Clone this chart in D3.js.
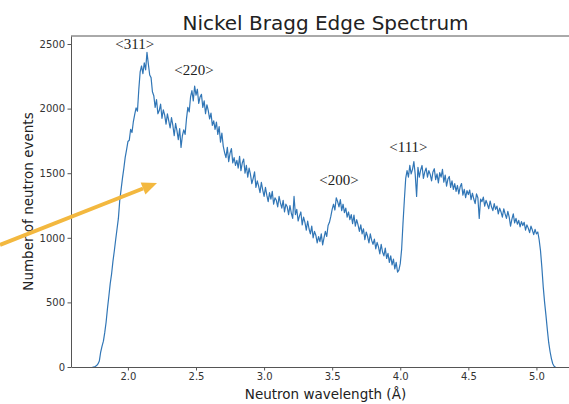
<!DOCTYPE html>
<html>
<head>
<meta charset="utf-8">
<script src="https://cdn.jsdelivr.net/npm/d3@7/dist/d3.min.js"></script>
<style>
  html, body { margin: 0; padding: 0; background: #fff; }
  svg { display: block; }
</style>
</head>
<body>
<script>
// Neutron counts per wavelength bin, starting at 1.74 Å with 0.01 Å bins
const lambdaStart = 1.74;
const lambdaStep = 0.01;
const counts = [
  0, 1, 4, 11, 24, 46,
  // 1.80
  116, 162, 200, 268, 348, 455, 548, 645, 720, 818,
  // 1.90
  898, 985, 1068, 1150, 1290, 1375, 1462, 1538, 1622, 1680,
  // 2.00
  1745, 1755, 1840, 1815, 1900, 1955, 2005, 1980, 2150, 2285,
  // 2.10
  2330, 2270, 2355, 2300, 2435, 2345, 2260, 2240, 2130, 2100,
  // 2.20
  2010, 2070, 1960, 1985, 2035, 1925, 1990, 1950, 1880, 1960,
  // 2.30
  1905, 1850, 1930, 1870, 1790, 1885, 1830, 1760, 1845, 1700,
  // 2.40
  1790, 1835, 1800, 1920, 2010, 1975, 2090, 2140, 2060, 2175,
  // 2.50
  2105, 2150, 2040, 2090, 2110, 2010, 2060, 1960, 2030, 1985,
  // 2.60
  1920, 1965, 1870, 1905, 1840, 1895, 1800, 1860, 1740, 1810,
  // 2.70
  1710, 1660, 1620, 1700, 1590, 1655, 1690, 1580, 1620, 1560,
  // 2.80
  1600, 1540, 1630, 1520, 1580, 1610, 1500, 1560, 1470, 1540,
  // 2.90
  1490, 1420, 1460, 1510, 1390, 1440, 1400, 1350, 1430, 1370,
  // 3.00
  1320, 1390, 1330, 1280, 1350, 1300, 1360, 1260, 1310, 1290,
  // 3.10
  1240, 1320, 1270, 1230, 1290, 1200, 1260, 1240, 1180, 1250,
  // 3.20
  1190, 1150, 1320, 1180, 1220, 1130, 1170, 1200, 1100, 1160,
  // 3.30
  1120, 1060, 1130, 1070, 1030, 1090, 1000, 1050, 1020, 960,
  // 3.40
  1010, 970, 1030, 945, 1000, 1050, 1010, 1095, 1120, 1165,
  // 3.50
  1220, 1260, 1215, 1310, 1280, 1240, 1295, 1210, 1260, 1195,
  // 3.60
  1230, 1160, 1200, 1140, 1180, 1110, 1175, 1090, 1140, 1100,
  // 3.70
  1050, 1100, 1030, 1070, 985, 1045, 1010, 960, 1030, 980,
  // 3.80
  950, 990, 915, 965, 930, 875, 950, 890, 860, 920,
  // 3.90
  840, 880, 810, 860, 790, 835, 760, 810, 735, 750,
  // 4.00
  800, 910, 1110, 1290, 1460, 1520, 1470, 1560, 1495, 1530,
  // 4.10
  1590, 1490, 1320, 1545, 1470, 1525, 1560, 1460, 1510, 1540,
  // 4.20
  1470, 1520, 1490, 1440, 1510, 1535, 1450, 1495, 1425, 1505,
  // 4.30
  1470, 1530, 1430, 1485, 1400, 1455, 1475, 1390, 1440, 1375,
  // 4.40
  1420, 1360, 1405, 1340, 1395, 1420, 1330, 1375, 1310, 1365,
  // 4.50
  1335, 1370, 1295, 1345, 1300, 1265, 1340, 1310, 1150, 1300,
  // 4.60
  1280, 1315, 1245, 1290, 1260, 1225, 1285, 1240, 1210, 1265,
  // 4.70
  1220, 1245, 1185, 1230, 1200, 1160, 1225, 1185, 1150, 1205,
  // 4.80
  1160, 1090, 1145, 1185, 1115, 1150, 1105, 1135, 1085, 1125,
  // 4.90
  1095, 1120, 1060, 1100, 1075, 1040, 1090, 1060, 1025, 1065,
  // 5.00
  1030, 1045, 985, 900, 770, 620, 500, 400, 290, 190,
  // 5.10
  120, 65, 25, 6, 0
];

// Crystal-plane annotations: Miller indices and where their labels sit
const peakLabels = ["<311>", "<220>", "<200>", "<111>"];
const peakLabelLambda = [2.05, 2.485, 3.55, 4.06];
const peakLabelCount = [2460, 2262, 1405, 1665];

const xTicks = [2.0, 2.5, 3.0, 3.5, 4.0, 4.5, 5.0];
const yTicks = [0, 500, 1000, 1500, 2000, 2500];

const W = 569, H = 404;
const margin = { left: 71, top: 36, right: 580, bottom: 367 };

const svg = d3.select("body").append("svg")
  .attr("width", W).attr("height", H)
  .style("font-family", "'DejaVu Sans', sans-serif");

const x = d3.scaleLinear().domain([1.582, 5.32]).range([margin.left, margin.right]);
const y = d3.scaleLinear().domain([0, 2562]).range([margin.bottom, margin.top]);

const data = counts.map((c, i) => ({ lam: lambdaStart + i * lambdaStep, c }));

// Spectrum trace
svg.append("path")
  .datum(data)
  .attr("fill", "none")
  .attr("stroke", "#3176b6")
  .attr("stroke-width", 1.2)
  .attr("stroke-linejoin", "round")
  .attr("d", d3.line().x(d => x(d.lam)).y(d => y(d.c)));

// Frame
const spine = "#555";
svg.append("line").attr("x1", margin.left).attr("x2", margin.right)
  .attr("y1", margin.top).attr("y2", margin.top)
  .attr("stroke", spine).attr("stroke-width", 1);

const xAxis = svg.append("g")
  .attr("transform", `translate(0,${margin.bottom})`)
  .call(d3.axisBottom(x).tickValues(xTicks).tickFormat(d3.format(".1f")).tickSize(3.5).tickSizeOuter(0));
const yAxis = svg.append("g")
  .attr("transform", `translate(${margin.left},0)`)
  .call(d3.axisLeft(y).tickValues(yTicks).tickFormat(d3.format("d")).tickSize(3.5).tickSizeOuter(0));

[xAxis, yAxis].forEach(g => {
  g.select(".domain").attr("stroke", spine).attr("stroke-width", 1);
  g.selectAll(".tick line").attr("stroke", spine);
  g.selectAll(".tick text")
    .attr("fill", "#333")
    .style("font-family", "'DejaVu Sans', sans-serif")
    .style("font-size", "10px");
});
xAxis.selectAll(".tick text").attr("dy", "0.71em").attr("y", 6);
yAxis.selectAll(".tick text").attr("x", -6);

// Titles
svg.append("text")
  .attr("x", (margin.left + margin.right) / 2).attr("y", 30)
  .attr("text-anchor", "middle")
  .attr("fill", "#222")
  .style("font-size", "20px")
  .text("Nickel Bragg Edge Spectrum");

svg.append("text")
  .attr("x", (margin.left + margin.right) / 2).attr("y", 399)
  .attr("text-anchor", "middle")
  .attr("fill", "#222")
  .style("font-size", "13.5px")
  .text("Neutron wavelength (Å)");

svg.append("text")
  .attr("transform", `translate(33,${(margin.top + margin.bottom) / 2}) rotate(-90)`)
  .attr("text-anchor", "middle")
  .attr("fill", "#222")
  .style("font-size", "13.5px")
  .text("Number of neutron events");

// Peak annotations
svg.selectAll("text.peak")
  .data(peakLabels)
  .enter().append("text")
  .attr("class", "peak")
  .attr("x", (d, i) => x(peakLabelLambda[i]))
  .attr("y", (d, i) => y(peakLabelCount[i]))
  .attr("text-anchor", "middle")
  .attr("fill", "#222")
  .style("font-family", "'Liberation Serif', 'Times New Roman', serif")
  .style("font-size", "15px")
  .text(d => d);

// Pointer arrow
const arrowColor = "#f3b83f";
const ax0 = 0, ay0 = 245, ax1 = 157, ay1 = 183;
const ang = Math.atan2(ay1 - ay0, ax1 - ax0);
const headLen = 15, headHalf = 6.5;
const bx = ax1 - headLen * Math.cos(ang), by = ay1 - headLen * Math.sin(ang);
svg.append("line")
  .attr("x1", ax0).attr("y1", ay0).attr("x2", bx).attr("y2", by)
  .attr("stroke", arrowColor).attr("stroke-width", 4);
svg.append("path")
  .attr("fill", arrowColor)
  .attr("d", `M${ax1},${ay1}` +
    `L${bx + headHalf * Math.sin(ang)},${by - headHalf * Math.cos(ang)}` +
    `L${bx - headHalf * Math.sin(ang)},${by + headHalf * Math.cos(ang)}Z`);
</script>
</body>
</html>
